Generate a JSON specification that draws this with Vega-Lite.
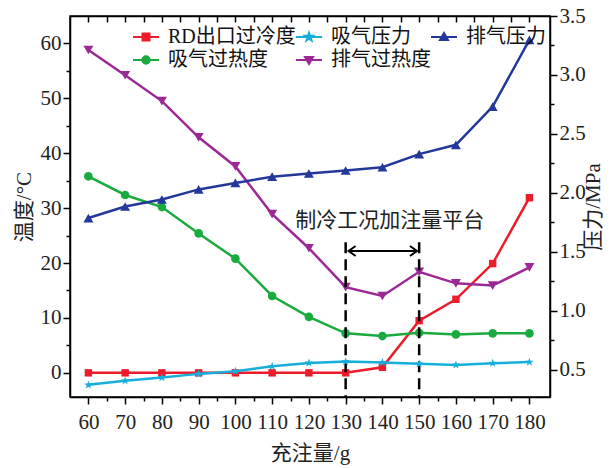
{
  "$schema": "https://vega.github.io/schema/vega-lite/v6.json",
  "width": 480,
  "height": 381,
  "autosize": {"type": "none"},
  "padding": {"left": 70, "top": 16, "right": 61, "bottom": 71},
  "background": "white",
  "config": {
    "view": {"stroke": "black", "strokeWidth": 1.5},
    "font": "Liberation Serif, Noto Sans CJK SC",
    "axis": {
      "labelFont": "Liberation Serif, Noto Sans CJK SC",
      "titleFont": "Liberation Serif, Noto Sans CJK SC",
      "labelFontSize": 21,
      "titleFontSize": 21,
      "titleFontWeight": "normal",
      "labelColor": "#222",
      "titleColor": "#222",
      "domainColor": "black",
      "domainWidth": 1.5,
      "tickColor": "black",
      "tickWidth": 1.5,
      "grid": false,
      "labelOverlap": false,
      "labelFlush": false
    }
  },
  "datasets": {
    "temp": [
      {"series": "RD出口过冷度", "charge": 60, "value": 0},
      {"series": "RD出口过冷度", "charge": 70, "value": 0},
      {"series": "RD出口过冷度", "charge": 80, "value": 0},
      {"series": "RD出口过冷度", "charge": 90, "value": 0},
      {"series": "RD出口过冷度", "charge": 100, "value": 0},
      {"series": "RD出口过冷度", "charge": 110, "value": 0},
      {"series": "RD出口过冷度", "charge": 120, "value": 0},
      {"series": "RD出口过冷度", "charge": 130, "value": 0},
      {"series": "RD出口过冷度", "charge": 140, "value": 1.0},
      {"series": "RD出口过冷度", "charge": 150, "value": 9.5},
      {"series": "RD出口过冷度", "charge": 160, "value": 13.4},
      {"series": "RD出口过冷度", "charge": 170, "value": 19.9},
      {"series": "RD出口过冷度", "charge": 180, "value": 31.9},
      {"series": "吸气过热度", "charge": 60, "value": 35.8},
      {"series": "吸气过热度", "charge": 70, "value": 32.4},
      {"series": "吸气过热度", "charge": 80, "value": 30.2},
      {"series": "吸气过热度", "charge": 90, "value": 25.4},
      {"series": "吸气过热度", "charge": 100, "value": 20.8},
      {"series": "吸气过热度", "charge": 110, "value": 14.0},
      {"series": "吸气过热度", "charge": 120, "value": 10.2},
      {"series": "吸气过热度", "charge": 130, "value": 7.2},
      {"series": "吸气过热度", "charge": 140, "value": 6.7},
      {"series": "吸气过热度", "charge": 150, "value": 7.3},
      {"series": "吸气过热度", "charge": 160, "value": 7.0},
      {"series": "吸气过热度", "charge": 170, "value": 7.2},
      {"series": "吸气过热度", "charge": 180, "value": 7.2},
      {"series": "排气过热度", "charge": 60, "value": 58.8},
      {"series": "排气过热度", "charge": 70, "value": 54.2},
      {"series": "排气过热度", "charge": 80, "value": 49.5},
      {"series": "排气过热度", "charge": 90, "value": 42.9},
      {"series": "排气过热度", "charge": 100, "value": 37.6},
      {"series": "排气过热度", "charge": 110, "value": 28.9},
      {"series": "排气过热度", "charge": 120, "value": 22.7},
      {"series": "排气过热度", "charge": 130, "value": 15.6},
      {"series": "排气过热度", "charge": 140, "value": 14.0},
      {"series": "排气过热度", "charge": 150, "value": 18.4},
      {"series": "排气过热度", "charge": 160, "value": 16.3},
      {"series": "排气过热度", "charge": 170, "value": 15.9},
      {"series": "排气过热度", "charge": 180, "value": 19.2}
    ],
    "press": [
      {"series": "吸气压力", "charge": 60, "value": 0.373},
      {"series": "吸气压力", "charge": 70, "value": 0.407},
      {"series": "吸气压力", "charge": 80, "value": 0.435},
      {"series": "吸气压力", "charge": 90, "value": 0.466},
      {"series": "吸气压力", "charge": 100, "value": 0.488},
      {"series": "吸气压力", "charge": 110, "value": 0.530},
      {"series": "吸气压力", "charge": 120, "value": 0.559},
      {"series": "吸气压力", "charge": 130, "value": 0.570},
      {"series": "吸气压力", "charge": 140, "value": 0.562},
      {"series": "吸气压力", "charge": 150, "value": 0.551},
      {"series": "吸气压力", "charge": 160, "value": 0.542},
      {"series": "吸气压力", "charge": 170, "value": 0.556},
      {"series": "吸气压力", "charge": 180, "value": 0.566},
      {"series": "排气压力", "charge": 60, "value": 1.787},
      {"series": "排气压力", "charge": 70, "value": 1.885},
      {"series": "排气压力", "charge": 80, "value": 1.944},
      {"series": "排气压力", "charge": 90, "value": 2.030},
      {"series": "排气压力", "charge": 100, "value": 2.085},
      {"series": "排气压力", "charge": 110, "value": 2.138},
      {"series": "排气压力", "charge": 120, "value": 2.165},
      {"series": "排气压力", "charge": 130, "value": 2.19},
      {"series": "排气压力", "charge": 140, "value": 2.218},
      {"series": "排气压力", "charge": 150, "value": 2.329},
      {"series": "排气压力", "charge": 160, "value": 2.408},
      {"series": "排气压力", "charge": 170, "value": 2.732},
      {"series": "排气压力", "charge": 180, "value": 3.297}
    ],
    "guides": [
      {"charge": 130, "value": 23.8, "value2": -4.4},
      {"charge": 150, "value": 23.8, "value2": -4.4}
    ],
    "arrow": [
      {"charge": 130.8, "charge2": 149.4, "value": 22.2}
    ],
    "note": [
      {"charge": 142, "value": 27.6, "label": "制冷工况加注量平台"}
    ]
  },
  "layer": [
    {
      "data": {"name": "temp"},
      "encoding": {
        "x": {
          "field": "charge",
          "type": "quantitative",
          "scale": {"domain": [55, 185.6], "nice": false, "zero": false},
          "axis": {
            "orient": "bottom",
            "title": "充注量/g",
            "values": [60, 65, 70, 75, 80, 85, 90, 95, 100, 105, 110, 115, 120, 125, 130, 135, 140, 145, 150, 155, 160, 165, 170, 175, 180],
            "labelExpr": "datum.value % 10 === 0 ? datum.label : ''",
            "tickSize": {"condition": {"test": "datum.value % 10 === 0", "value": 7}, "value": 4},
            "labelPadding": 7,
            "titlePadding": 10
          }
        },
        "y": {
          "field": "value",
          "type": "quantitative",
          "scale": {"domain": [-4.4, 65], "nice": false, "zero": false},
          "axis": {
            "orient": "left",
            "title": "温度/°C",
            "values": [0, 5, 10, 15, 20, 25, 30, 35, 40, 45, 50, 55, 60],
            "labelExpr": "datum.value % 10 === 0 ? datum.label : ''",
            "tickSize": {"condition": {"test": "datum.value % 10 === 0", "value": 7}, "value": 4},
            "labelPadding": 2,
            "titlePadding": 6
          }
        }
      },
      "layer": [
        {
          "mark": {"type": "line", "strokeWidth": 2.5},
          "encoding": {
            "color": {
              "field": "series",
              "type": "nominal",
              "scale": {
                "domain": ["RD出口过冷度", "吸气压力", "排气压力", "吸气过热度", "排气过热度"],
                "range": ["#ec1c2a", "#17aedb", "#22389a", "#1aab3e", "#9c2896"]
              },
              "legend": {
                "orient": "none",
                "legendX": 66,
                "legendY": 11,
                "columns": 3,
                "direction": "horizontal",
                "title": null,
                "labelFont": "Liberation Serif, Noto Sans CJK SC",
                "labelFontSize": 20,
                "labelColor": "#111",
                "symbolSize": 100,
                "symbolStrokeWidth": 2,
                "labelOffset": 12,
                "columnPadding": -4,
                "rowPadding": 3,
                "padding": 0,
                "encode": {
                  "symbols": {
                    "update": {
                      "shape": {"signal": "datum.value === 'RD出口过冷度' ? 'M-2.6,0H2.6M-0.7,-0.7H0.7V0.7H-0.7Z' : datum.value === '吸气压力' ? 'M-2.6,0H2.6M0,-0.85L0.2,-0.275L0.808,-0.263L0.323,0.105L0.5,0.688L0,0.34L-0.5,0.688L-0.323,0.105L-0.808,-0.263L-0.2,-0.275Z' : datum.value === '排气压力' ? 'M-2.6,0H2.6M0,-0.8L0.8,0.6L-0.8,0.6Z' : datum.value === '吸气过热度' ? 'M-2.6,0H2.6M-0.75,0A0.75,0.75 0 1,0 0.75,0A0.75,0.75 0 1,0 -0.75,0Z' : 'M-2.6,0H2.6M0,0.8L0.8,-0.6L-0.8,-0.6Z'"},
                      "fill": {"signal": "scale('color', datum.value)"},
                      "strokeWidth": {"value": 2},
                      "opacity": {"value": 1}
                    }
                  }
                }
              }
            }
          }
        },
        {
          "transform": [{"filter": "datum.series === 'RD出口过冷度'"}],
          "mark": {"type": "point", "filled": true, "opacity": 1, "shape": "square", "color": "#ec1c2a", "size": 55}
        },
        {
          "transform": [{"filter": "datum.series === '吸气过热度'"}],
          "mark": {"type": "point", "filled": true, "opacity": 1, "shape": "circle", "color": "#1aab3e", "size": 75}
        },
        {
          "transform": [{"filter": "datum.series === '排气过热度'"}],
          "mark": {"type": "point", "filled": true, "opacity": 1, "shape": "triangle-down", "color": "#9c2896", "size": 100}
        },
        {
          "data": {"name": "guides"},
          "mark": {"type": "rule", "color": "black", "strokeWidth": 2.5, "strokeDash": [11, 6]},
          "encoding": {
            "y2": {"field": "value2"}
          }
        },
        {
          "data": {"name": "arrow"},
          "mark": {"type": "rule", "color": "black", "strokeWidth": 2},
          "encoding": {
            "x2": {"field": "charge2"}
          }
        },
        {
          "data": {"values": [{"charge": 130.8, "value": 22.2}]},
          "mark": {"type": "point", "shape": "M1.4,-1L0,0L1.4,1", "filled": false, "stroke": "black", "strokeWidth": 2, "size": 100, "opacity": 1}
        },
        {
          "data": {"values": [{"charge": 149.4, "value": 22.2}]},
          "mark": {"type": "point", "shape": "M-1.4,-1L0,0L-1.4,1", "filled": false, "stroke": "black", "strokeWidth": 2, "size": 100, "opacity": 1}
        },
        {
          "data": {"name": "note"},
          "mark": {"type": "text", "fontSize": 21, "font": "Liberation Serif, Noto Sans CJK SC", "color": "#222", "align": "center", "baseline": "middle"},
          "encoding": {
            "text": {"field": "label"}
          }
        }
      ]
    },
    {
      "data": {"name": "press"},
      "encoding": {
        "x": {
          "field": "charge",
          "type": "quantitative",
          "scale": {"domain": [55, 185.6], "nice": false, "zero": false},
          "axis": {
            "orient": "top",
            "title": null,
            "labels": false,
            "values": [60, 65, 70, 75, 80, 85, 90, 95, 100, 105, 110, 115, 120, 125, 130, 135, 140, 145, 150, 155, 160, 165, 170, 175, 180],
            "tickSize": -6
          }
        },
        "y": {
          "field": "value",
          "type": "quantitative",
          "scale": {"domain": [0.27, 3.5], "nice": false, "zero": false},
          "axis": {
            "orient": "right",
            "title": "压力/MPa",
            "titleAngle": 270,
            "titleBaseline": "top",
            "values": [0.5, 0.75, 1.0, 1.25, 1.5, 1.75, 2.0, 2.25, 2.5, 2.75, 3.0, 3.25, 3.5],
            "labelExpr": "round(datum.value * 100) % 50 === 0 ? format(datum.value, '.1f') : ''",
            "tickSize": {"condition": {"test": "round(datum.value * 100) % 50 === 0", "value": 7}, "value": 4},
            "labelPadding": 2,
            "titlePadding": -3
          }
        }
      },
      "layer": [
        {
          "transform": [{"filter": "datum.series === '吸气压力'"}],
          "mark": {"type": "line", "strokeWidth": 2.5, "color": "#17aedb"}
        },
        {
          "transform": [{"filter": "datum.series === '排气压力'"}],
          "mark": {"type": "line", "strokeWidth": 2.5, "color": "#22389a"}
        },
        {
          "transform": [{"filter": "datum.series === '吸气压力'"}],
          "mark": {"type": "point", "filled": true, "opacity": 1, "color": "#17aedb", "size": 110, "shape": "M0,-0.85L0.2,-0.275L0.808,-0.263L0.323,0.105L0.5,0.688L0,0.34L-0.5,0.688L-0.323,0.105L-0.808,-0.263L-0.2,-0.275Z"}
        },
        {
          "transform": [{"filter": "datum.series === '排气压力'"}],
          "mark": {"type": "point", "filled": true, "opacity": 1, "color": "#22389a", "size": 100, "shape": "triangle-up"}
        }
      ]
    }
  ],
  "resolve": {"scale": {"y": "independent"}, "axis": {"x": "independent"}}
}
